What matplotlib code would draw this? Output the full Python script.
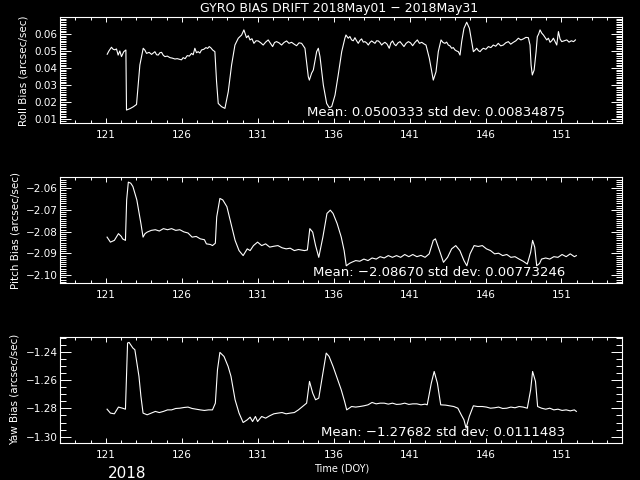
import matplotlib
matplotlib.use("Agg")
import matplotlib.pyplot as plt
from matplotlib.ticker import MultipleLocator

# ---- data (day of year, bias in arcsec/sec) ----
roll_day = [121.09, 121.20, 121.37, 121.48, 121.59, 121.70, 121.81, 121.92, 122.03, 122.18,
            122.32, 122.36, 122.60, 122.80, 123.02, 123.24, 123.46, 123.57, 123.68, 123.85,
            124.01, 124.12, 124.23, 124.34, 124.45, 124.56, 124.67, 124.78, 124.89, 125.05,
            125.22, 125.38, 125.55, 125.70, 125.87, 125.98, 126.09, 126.22, 126.36, 126.50,
            126.64, 126.75, 126.86, 126.97, 127.08, 127.19, 127.30, 127.45, 127.59, 127.70,
            127.81, 127.92, 128.03, 128.18, 128.29, 128.40, 128.62, 128.84, 129.06, 129.28,
            129.50, 129.72, 129.94, 130.09, 130.26, 130.38, 130.49, 130.62, 130.75, 130.89,
            131.03, 131.20, 131.36, 131.52, 131.69, 131.84, 131.98, 132.11, 132.24, 132.40,
            132.57, 132.73, 132.90, 133.06, 133.23, 133.40, 133.56, 133.72, 133.89, 134.00,
            134.11, 134.33, 134.40, 134.55, 134.66, 134.88, 134.99, 135.10, 135.32, 135.54,
            135.71, 135.87, 136.09, 136.30, 136.53, 136.74, 136.81, 136.96, 137.07, 137.18,
            137.29, 137.40, 137.51, 137.62, 137.73, 137.84, 137.95, 138.06, 138.17, 138.28,
            138.39, 138.50, 138.61, 138.72, 138.83, 138.94, 139.05, 139.16, 139.27, 139.38,
            139.52, 139.66, 139.77, 139.88, 139.99, 140.10, 140.24, 140.37, 140.50, 140.63,
            140.77, 140.92, 141.06, 141.20, 141.35, 141.51, 141.65, 141.80, 141.94, 142.08,
            142.30, 142.46, 142.56, 142.74, 142.89, 143.07, 143.20, 143.33, 143.44, 143.55,
            143.66, 143.77, 143.88, 143.99, 144.10, 144.21, 144.32, 144.43, 144.58, 144.76,
            144.94, 145.09, 145.20, 145.31, 145.42, 145.53, 145.64, 145.75, 145.86, 146.02,
            146.19, 146.35, 146.51, 146.67, 146.84, 147.00, 147.17, 147.33, 147.50, 147.66,
            147.83, 148.00, 148.16, 148.33, 148.49, 148.66, 148.82, 148.93, 149.00, 149.08,
            149.20, 149.33, 149.41, 149.50, 149.59, 149.70, 149.81, 149.92, 150.03, 150.14,
            150.25, 150.36, 150.47, 150.58, 150.69, 150.80, 150.91, 151.02, 151.18, 151.35,
            151.50, 151.65, 151.80, 151.92]
roll_val = [0.0481, 0.0500, 0.0522, 0.0510, 0.0507, 0.0512, 0.0476, 0.0500, 0.0467, 0.0496,
            0.0506, 0.0153, 0.0162, 0.0172, 0.0186, 0.0418, 0.0516, 0.0505, 0.0486, 0.0492,
            0.0480, 0.0488, 0.0496, 0.0478, 0.0476, 0.0490, 0.0492, 0.0475, 0.0467, 0.0470,
            0.0461, 0.0458, 0.0453, 0.0455, 0.0451, 0.0448, 0.0461, 0.0455, 0.0473, 0.0470,
            0.0486, 0.0478, 0.0516, 0.0490, 0.0496, 0.0488, 0.0506, 0.0510, 0.0520, 0.0515,
            0.0526, 0.0518, 0.0506, 0.0496, 0.0320, 0.0192, 0.0173, 0.0163, 0.0261, 0.0418,
            0.0535, 0.0575, 0.0594, 0.0624, 0.0578, 0.0590, 0.0565, 0.0572, 0.0545, 0.0560,
            0.0559, 0.0548, 0.0535, 0.0552, 0.0565, 0.0545, 0.0526, 0.0550, 0.0555, 0.0548,
            0.0535, 0.0550, 0.0559, 0.0545, 0.0551, 0.0540, 0.0531, 0.0548, 0.0545, 0.0530,
            0.0516, 0.0349, 0.0329, 0.0370, 0.0388, 0.0496, 0.0516, 0.0467, 0.0300, 0.0192,
            0.0167, 0.0173, 0.0241, 0.0359, 0.0496, 0.0575, 0.0594, 0.0575, 0.0585, 0.0565,
            0.0560, 0.0578, 0.0560, 0.0545, 0.0562, 0.0571, 0.0552, 0.0555, 0.0548, 0.0535,
            0.0550, 0.0559, 0.0552, 0.0545, 0.0560, 0.0559, 0.0550, 0.0535, 0.0545, 0.0551,
            0.0540, 0.0516, 0.0548, 0.0559, 0.0540, 0.0531, 0.0548, 0.0555, 0.0540, 0.0526,
            0.0545, 0.0555, 0.0548, 0.0531, 0.0550, 0.0565, 0.0545, 0.0551, 0.0542, 0.0535,
            0.0457, 0.0378, 0.0329, 0.0378, 0.0496, 0.0565, 0.0550, 0.0545, 0.0552, 0.0535,
            0.0530, 0.0516, 0.0520, 0.0506, 0.0500, 0.0496, 0.0476, 0.0555, 0.0633, 0.0669,
            0.0633, 0.0555, 0.0496, 0.0505, 0.0516, 0.0502, 0.0496, 0.0508, 0.0516, 0.0510,
            0.0526, 0.0520, 0.0535, 0.0528, 0.0545, 0.0530, 0.0535, 0.0548, 0.0555, 0.0540,
            0.0551, 0.0560, 0.0575, 0.0565, 0.0571, 0.0580, 0.0578, 0.0535, 0.0418, 0.0359,
            0.0388, 0.0496, 0.0584, 0.0600, 0.0624, 0.0605, 0.0594, 0.0580, 0.0565, 0.0575,
            0.0551, 0.0560, 0.0575, 0.0555, 0.0535, 0.0614, 0.0570, 0.0555, 0.0560, 0.0565,
            0.0552, 0.0560, 0.0555, 0.0565]

pitch_day = [121.08, 121.30, 121.56, 121.83, 122.02, 122.10, 122.29, 122.37, 122.48, 122.64,
             122.78, 123.04, 123.31, 123.45, 123.58, 123.72, 123.99, 124.26, 124.52, 124.79,
             125.06, 125.33, 125.60, 125.87, 126.14, 126.41, 126.68, 126.95, 127.22, 127.49,
             127.62, 127.89, 128.02, 128.21, 128.30, 128.51, 128.70, 128.97, 129.24, 129.51,
             129.77, 130.04, 130.31, 130.50, 130.72, 130.99, 131.26, 131.52, 131.79, 132.06,
             132.33, 132.60, 132.87, 133.14, 133.41, 133.68, 134.08, 134.27, 134.43, 134.62,
             134.81, 135.02, 135.29, 135.56, 135.78, 135.96, 136.23, 136.50, 136.69, 136.83,
             137.04, 137.18, 137.45, 137.72, 137.99, 138.26, 138.53, 138.80, 139.06, 139.33,
             139.60, 139.87, 140.14, 140.41, 140.68, 140.95, 141.21, 141.48, 141.75, 142.02,
             142.29, 142.56, 142.70, 142.97, 143.23, 143.50, 143.77, 144.04, 144.31, 144.58,
             144.77, 144.98, 145.25, 145.52, 145.79, 146.06, 146.33, 146.60, 146.86, 147.13,
             147.40, 147.67, 147.94, 148.21, 148.48, 148.75, 148.97, 149.10, 149.24, 149.37,
             149.56, 149.69, 149.96, 150.23, 150.50, 150.77, 151.04, 151.31, 151.58, 151.85,
             151.98]
pitch_val = [-2.0825, -2.0848, -2.0840, -2.0809, -2.0822, -2.0833, -2.0840, -2.0654, -2.0572, -2.0577,
             -2.0592, -2.0654, -2.0763, -2.0825, -2.0809, -2.0802, -2.0794, -2.0791, -2.0797, -2.0786,
             -2.0791, -2.0786, -2.0794, -2.0791, -2.0801, -2.0806, -2.0825, -2.0822, -2.0833, -2.0837,
             -2.0856, -2.0859, -2.0864, -2.0853, -2.0732, -2.0647, -2.0654, -2.0685, -2.0763, -2.0840,
             -2.0887, -2.0910, -2.0879, -2.0887, -2.0864, -2.0848, -2.0864, -2.0856, -2.0871, -2.0867,
             -2.0864, -2.0874, -2.0879, -2.0876, -2.0887, -2.0882, -2.0887, -2.0884, -2.0786, -2.0802,
             -2.0864, -2.0918, -2.0825, -2.0716, -2.0701, -2.0716, -2.0763, -2.0825, -2.0887, -2.0957,
             -2.0946, -2.0941, -2.0933, -2.0936, -2.0926, -2.0933, -2.0921, -2.0926, -2.0915, -2.0921,
             -2.0910, -2.0918, -2.0910, -2.0918, -2.0905, -2.0915, -2.0905, -2.0915, -2.0909, -2.0918,
             -2.0902, -2.0840, -2.0833, -2.0887, -2.0941, -2.0918, -2.0879, -2.0864, -2.0887, -2.0933,
             -2.0957, -2.0902, -2.0864, -2.0868, -2.0864, -2.0879, -2.0887, -2.0902, -2.0899, -2.0910,
             -2.0905, -2.0918, -2.0915, -2.0926, -2.0936, -2.0949, -2.0895, -2.0840, -2.0871, -2.0957,
             -2.0946, -2.0926, -2.0921, -2.0926, -2.0915, -2.0918, -2.0905, -2.0915, -2.0902, -2.0915,
             -2.0910]

yaw_day = [121.08, 121.30, 121.56, 121.83, 122.10, 122.29, 122.43, 122.53, 122.78, 122.91,
           123.18, 123.31, 123.45, 123.72, 123.99, 124.26, 124.52, 124.79, 125.06, 125.33,
           125.60, 125.87, 126.14, 126.41, 126.68, 126.95, 127.22, 127.49, 127.76, 128.02,
           128.21, 128.35, 128.51, 128.78, 129.05, 129.24, 129.51, 129.77, 130.04, 130.31,
           130.50, 130.66, 130.85, 130.99, 131.26, 131.52, 131.79, 132.06, 132.33, 132.60,
           132.87, 133.14, 133.41, 133.68, 133.95, 134.22, 134.41, 134.62, 134.81, 135.02,
           135.29, 135.51, 135.70, 135.96, 136.23, 136.50, 136.72, 136.86, 137.18, 137.45,
           137.72, 137.99, 138.26, 138.53, 138.80, 139.06, 139.33, 139.60, 139.87, 140.14,
           140.41, 140.68, 140.95, 141.21, 141.48, 141.75, 142.02, 142.16, 142.43, 142.62,
           142.83, 143.05, 143.37, 143.64, 143.91, 144.18, 144.40, 144.58, 144.72, 144.93,
           145.20, 145.47, 145.79, 146.06, 146.33, 146.60, 146.86, 147.13, 147.40, 147.67,
           147.94, 148.21, 148.48, 148.75, 148.97, 149.10, 149.29, 149.43, 149.69, 149.96,
           150.23, 150.50, 150.77, 151.04, 151.31, 151.58, 151.85, 151.98]
yaw_val = [-1.2805, -1.2833, -1.2838, -1.2790, -1.2798, -1.2805, -1.2333, -1.2329, -1.2369, -1.2381,
           -1.2571, -1.2714, -1.2833, -1.2845, -1.2833, -1.2821, -1.2829, -1.2821, -1.2810, -1.2810,
           -1.2800, -1.2798, -1.2793, -1.2790, -1.2800, -1.2805, -1.2810, -1.2814, -1.2810, -1.2810,
           -1.2762, -1.2524, -1.2400, -1.2429, -1.2500, -1.2571, -1.2738, -1.2833, -1.2900, -1.2881,
           -1.2862, -1.2893, -1.2857, -1.2893, -1.2857, -1.2869, -1.2852, -1.2838, -1.2833, -1.2829,
           -1.2838, -1.2833, -1.2829, -1.2810, -1.2786, -1.2762, -1.2607, -1.2690, -1.2738, -1.2726,
           -1.2548, -1.2405, -1.2429, -1.2500, -1.2583, -1.2667, -1.2750, -1.2810, -1.2786, -1.2790,
           -1.2786, -1.2781, -1.2774, -1.2757, -1.2767, -1.2762, -1.2762, -1.2769, -1.2762, -1.2771,
           -1.2769, -1.2762, -1.2771, -1.2767, -1.2767, -1.2774, -1.2769, -1.2774, -1.2619, -1.2536,
           -1.2619, -1.2774, -1.2776, -1.2781, -1.2786, -1.2798, -1.2845, -1.2881, -1.2940, -1.2857,
           -1.2781, -1.2786, -1.2786, -1.2790, -1.2798, -1.2795, -1.2790, -1.2800, -1.2798, -1.2790,
           -1.2795, -1.2786, -1.2790, -1.2798, -1.2667, -1.2536, -1.2607, -1.2786, -1.2798, -1.2805,
           -1.2798, -1.2810, -1.2805, -1.2814, -1.2810, -1.2817, -1.2810, -1.2821]

day_ticks = [121, 126, 131, 136, 141, 146, 151]
roll_ticks = [0.01, 0.02, 0.03, 0.04, 0.05, 0.06]
pitch_ticks = [-2.10, -2.09, -2.08, -2.07, -2.06]
yaw_ticks = [-1.30, -1.28, -1.26, -1.24]

roll_text = "Mean: 0.0500333 std dev: 0.00834875"
pitch_text = "Mean: -2.08670 std dev: 0.00773246"
yaw_text = "Mean: -1.27682 std dev: 0.0111483"

# ---- plotting ----
plt.rcParams["font.family"] = "DejaVu Sans"
fig = plt.figure(figsize=(6.4, 4.8), dpi=100, facecolor="black")

panels = [
    ([0.0942, 0.743, 0.878, 0.221], roll_day, roll_val, roll_ticks, "%.2f", 0.001,
     (0.0075, 0.0698), "Roll Bias (arcsec/sec)", roll_text),
    ([0.0942, 0.410, 0.878, 0.221], pitch_day, pitch_val, pitch_ticks, "%.2f", 0.001,
     (-2.1037, -2.0549), "Pitch Bias (arcsec/sec)", pitch_text),
    ([0.0942, 0.078, 0.878, 0.220], yaw_day, yaw_val, yaw_ticks, "%.2f", 0.005,
     (-1.3043, -1.2290), "Yaw Bias (arcsec/sec)", yaw_text),
]

for rect, xs, ys, yt, fmt, ymin, ylim, ylab, txt in panels:
    ax = fig.add_axes(rect, facecolor="black")
    ax.plot(xs, ys, color="white", lw=0.8)
    ax.set_xlim(118, 155)
    ax.set_ylim(*ylim)
    ax.set_xticks(day_ticks)
    ax.set_xticklabels([str(d) for d in day_ticks])
    ax.xaxis.set_minor_locator(MultipleLocator(1))
    ax.set_yticks(yt)
    ax.set_yticklabels([(fmt % v).replace("-", "\u2212") for v in yt])
    ax.yaxis.set_minor_locator(MultipleLocator(ymin))
    for s in ax.spines.values():
        s.set_color("white")
        s.set_linewidth(0.8)
    ax.tick_params(which="both", direction="in", top=True, right=True,
                   colors="white", labelsize=7.5, width=0.7)
    ax.tick_params(axis="y", which="major", length=8, pad=2)
    ax.tick_params(axis="y", which="minor", length=4.5)
    ax.tick_params(axis="x", which="major", length=3.5, pad=5)
    ax.tick_params(axis="x", which="minor", length=2.5)
    ax.set_ylabel(ylab, color="white", fontsize=7.5, labelpad=4)
    ax.text(0.898, 0.10, txt.replace("-", "\u2212"), transform=ax.transAxes,
            ha="right", va="center", color="white", fontsize=9.5)
    if ylab.startswith("Yaw"):
        ax.set_xlabel("Time (DOY)", color="white", fontsize=7, labelpad=3)

fig.text(0.53, 0.983, "GYRO BIAS DRIFT 2018May01 \u2212 2018May31",
         ha="center", va="center", color="white", fontsize=9)
fig.text(0.198, 0.013, "2018", ha="center", va="center", color="white", fontsize=11)

fig.savefig("out.png", dpi=100, facecolor="black")
